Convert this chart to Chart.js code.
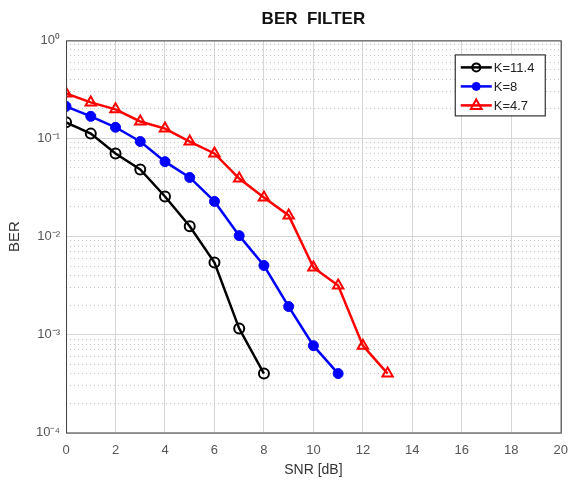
<!DOCTYPE html>
<html>
<head>
<meta charset="utf-8">
<script src="https://cdn.jsdelivr.net/npm/chart.js@4.4.1/dist/chart.umd.min.js"></script>
<style>
  html, body { margin: 0; padding: 0; background: #fff; }
  #wrap { width: 570px; height: 485px; }
</style>
</head>
<body>
<div id="wrap"><canvas id="graficoBER" width="570" height="485"></canvas></div>
<script>
// SNR en dB (eje x)
const snr = [0, 1, 2, 3, 4, 5, 6, 7, 8, 9, 10, 11, 12, 13];

// BER
const berK114 = [0.146, 0.112, 0.0703, 0.0483, 0.0256, 0.0127, 0.00543, 0.00115, 0.0004];
const berK8 = [0.212, 0.168, 0.13, 0.093, 0.058, 0.04, 0.0228, 0.0102, 0.00506, 0.00193, 0.00077, 0.0004];
const berK47 = [0.288, 0.233, 0.198, 0.149, 0.126, 0.093, 0.0703, 0.039, 0.025, 0.0164, 0.00483, 0.00316, 0.00077, 0.0004];

const seriesLabels = ["K=11.4", "K=8", "K=4.7"];
const xTicks = [0, 2, 4, 6, 8, 10, 12, 14, 16, 18, 20];
const yMajor = [1e-4, 1e-3, 1e-2, 1e-1, 1];
const yMajorLabels = ["10\u207B\u2074", "10\u207B\u00B3", "10\u207B\u00B2", "10\u207B\u00B9", "10\u2070"];

const toPoints = (ys) => ys.map((y, i) => ({ x: snr[i], y: y }));

// ticks menores 2..9 de cada decada
const yMinor = [];
yMajor.slice(0, -1).forEach((d) => {
  for (let m = 2; m <= 9; m++) yMinor.push(d * m);
});

const gridMajor = "#d6d6d6";
const gridMinor = "#c4c4c4";

// caja del grafico + leyenda (estilo matlab)
const boxPlugin = {
  id: "boxMatlab",
  afterDraw(chart) {
    const { ctx, chartArea: a } = chart;
    ctx.save();
    ctx.strokeStyle = "#404040";
    ctx.lineWidth = 1;
    ctx.strokeRect(a.left + 0.5, a.top + 0.5, a.right - a.left, a.bottom - a.top);
    ctx.restore();
  },
  afterDatasetsDraw(chart) {
    const { ctx, chartArea: a } = chart;
    const w = 90, h = 61;
    const x0 = a.right - 16 - w, y0 = a.top + 14;
    ctx.save();
    ctx.fillStyle = "#fff";
    ctx.fillRect(x0, y0, w, h);
    ctx.strokeStyle = "#333";
    ctx.lineWidth = 1.2;
    ctx.strokeRect(x0 + 0.5, y0 + 0.5, w, h);
    ctx.font = "13px 'Liberation Sans', Arial, sans-serif";
    ctx.textBaseline = "middle";
    chart.data.datasets.forEach((ds, i) => {
      const cy = y0 + 13 + i * 19;
      const lx0 = x0 + 6, lx1 = x0 + 37, cx = (lx0 + lx1) / 2;
      ctx.strokeStyle = ds.borderColor;
      ctx.lineWidth = ds.borderWidth;
      ctx.beginPath();
      ctx.moveTo(lx0, cy);
      ctx.lineTo(lx1, cy);
      ctx.stroke();
      ctx.fillStyle = ds.pointBackgroundColor;
      ctx.lineWidth = ds.pointBorderWidth;
      ctx.beginPath();
      if (ds.pointStyle === "triangle") {
        const r = ds.pointRadius;
        ctx.moveTo(cx, cy - r);
        ctx.lineTo(cx + r * 0.9, cy + r * 0.6);
        ctx.lineTo(cx - r * 0.9, cy + r * 0.6);
        ctx.closePath();
      } else {
        ctx.arc(cx, cy, ds.pointRadius - 1, 0, Math.PI * 2);
      }
      ctx.fill();
      ctx.stroke();
      ctx.fillStyle = "#222";
      ctx.fillText(ds.label, lx1 + 2, cy + 1);
    });
    ctx.restore();
  },
};

new Chart(document.getElementById("graficoBER").getContext("2d"), {
  type: "line",
  data: {
    datasets: [
      {
        label: seriesLabels[0],
        data: toPoints(berK114),
        borderColor: "#000000",
        borderWidth: 2.5,
        pointStyle: "circle",
        pointRadius: 5,
        pointBorderWidth: 2,
        pointBackgroundColor: "rgba(255,255,255,0)",
        pointBorderColor: "#000000",
        tension: 0,
      },
      {
        label: seriesLabels[1],
        data: toPoints(berK8),
        borderColor: "#0000ff",
        borderWidth: 2.5,
        pointStyle: "circle",
        pointRadius: 5,
        pointBorderWidth: 1,
        pointBackgroundColor: "#0000ff",
        pointBorderColor: "#0000ff",
        tension: 0,
      },
      {
        label: seriesLabels[2],
        data: toPoints(berK47),
        borderColor: "#ff0000",
        borderWidth: 2.5,
        pointStyle: "triangle",
        pointRadius: 6,
        pointBorderWidth: 2,
        pointBackgroundColor: "rgba(255,255,255,0)",
        pointBorderColor: "#ff0000",
        tension: 0,
      },
    ],
  },
  options: {
    responsive: false,
    animation: false,
    layout: { padding: { left: 6, right: 0, top: 0, bottom: 6 } },
    plugins: {
      legend: { display: false },
      tooltip: { enabled: false },
      title: {
        display: true,
        text: "BER  FILTER",
        fullSize: false,
        color: "#111",
        font: { family: "'Liberation Sans', Arial, sans-serif", size: 17, weight: "bold" },
        padding: { top: 9, bottom: 11 },
      },
    },
    scales: {
      x: {
        type: "linear",
        min: 0,
        max: 20,
        afterBuildTicks: (axis) => { axis.ticks = xTicks.map((v) => ({ value: v })); },
        grid: { color: gridMajor, drawTicks: true, tickLength: 8, tickColor: "rgba(0,0,0,0)" },
        border: { display: false },
        ticks: {
          color: "#555",
          padding: 2,
          font: { family: "'Liberation Sans', Arial, sans-serif", size: 13 },
        },
        title: {
          display: true,
          text: "SNR [dB]",
          color: "#333",
          padding: { top: 2, bottom: 0 },
          font: { family: "'Liberation Sans', Arial, sans-serif", size: 14 },
        },
      },
      y: {
        type: "logarithmic",
        min: 1e-4,
        max: 1,
        afterBuildTicks: (axis) => { axis.ticks = yMajor.map((v) => ({ value: v })); },
        grid: { color: gridMajor, drawTicks: false },
        border: { display: false },
        ticks: {
          color: "#555",
          padding: 6,
          font: { family: "'Liberation Sans', Arial, sans-serif", size: 13 },
          callback: (value) => {
            const i = yMajor.findIndex((v) => Math.abs(v - value) / v < 1e-6);
            return i >= 0 ? yMajorLabels[i] : "";
          },
        },
        title: {
          display: true,
          text: "BER",
          color: "#333",
          padding: { top: 0, bottom: 6 },
          font: { family: "'Liberation Sans', Arial, sans-serif", size: 15 },
        },
      },
      yMinor: {
        type: "logarithmic",
        position: "right",
        min: 1e-4,
        max: 1,
        afterBuildTicks: (axis) => { axis.ticks = yMinor.map((v) => ({ value: v })); },
        afterFit: (axis) => { axis.width = 0; },
        grid: { color: gridMinor, drawTicks: false, tickLength: 0, lineWidth: 1 },
        border: { display: false, dash: [1, 3] },
        ticks: { display: false, padding: 0 },
      },
    },
  },
  plugins: [boxPlugin],
});
</script>
</body>
</html>
